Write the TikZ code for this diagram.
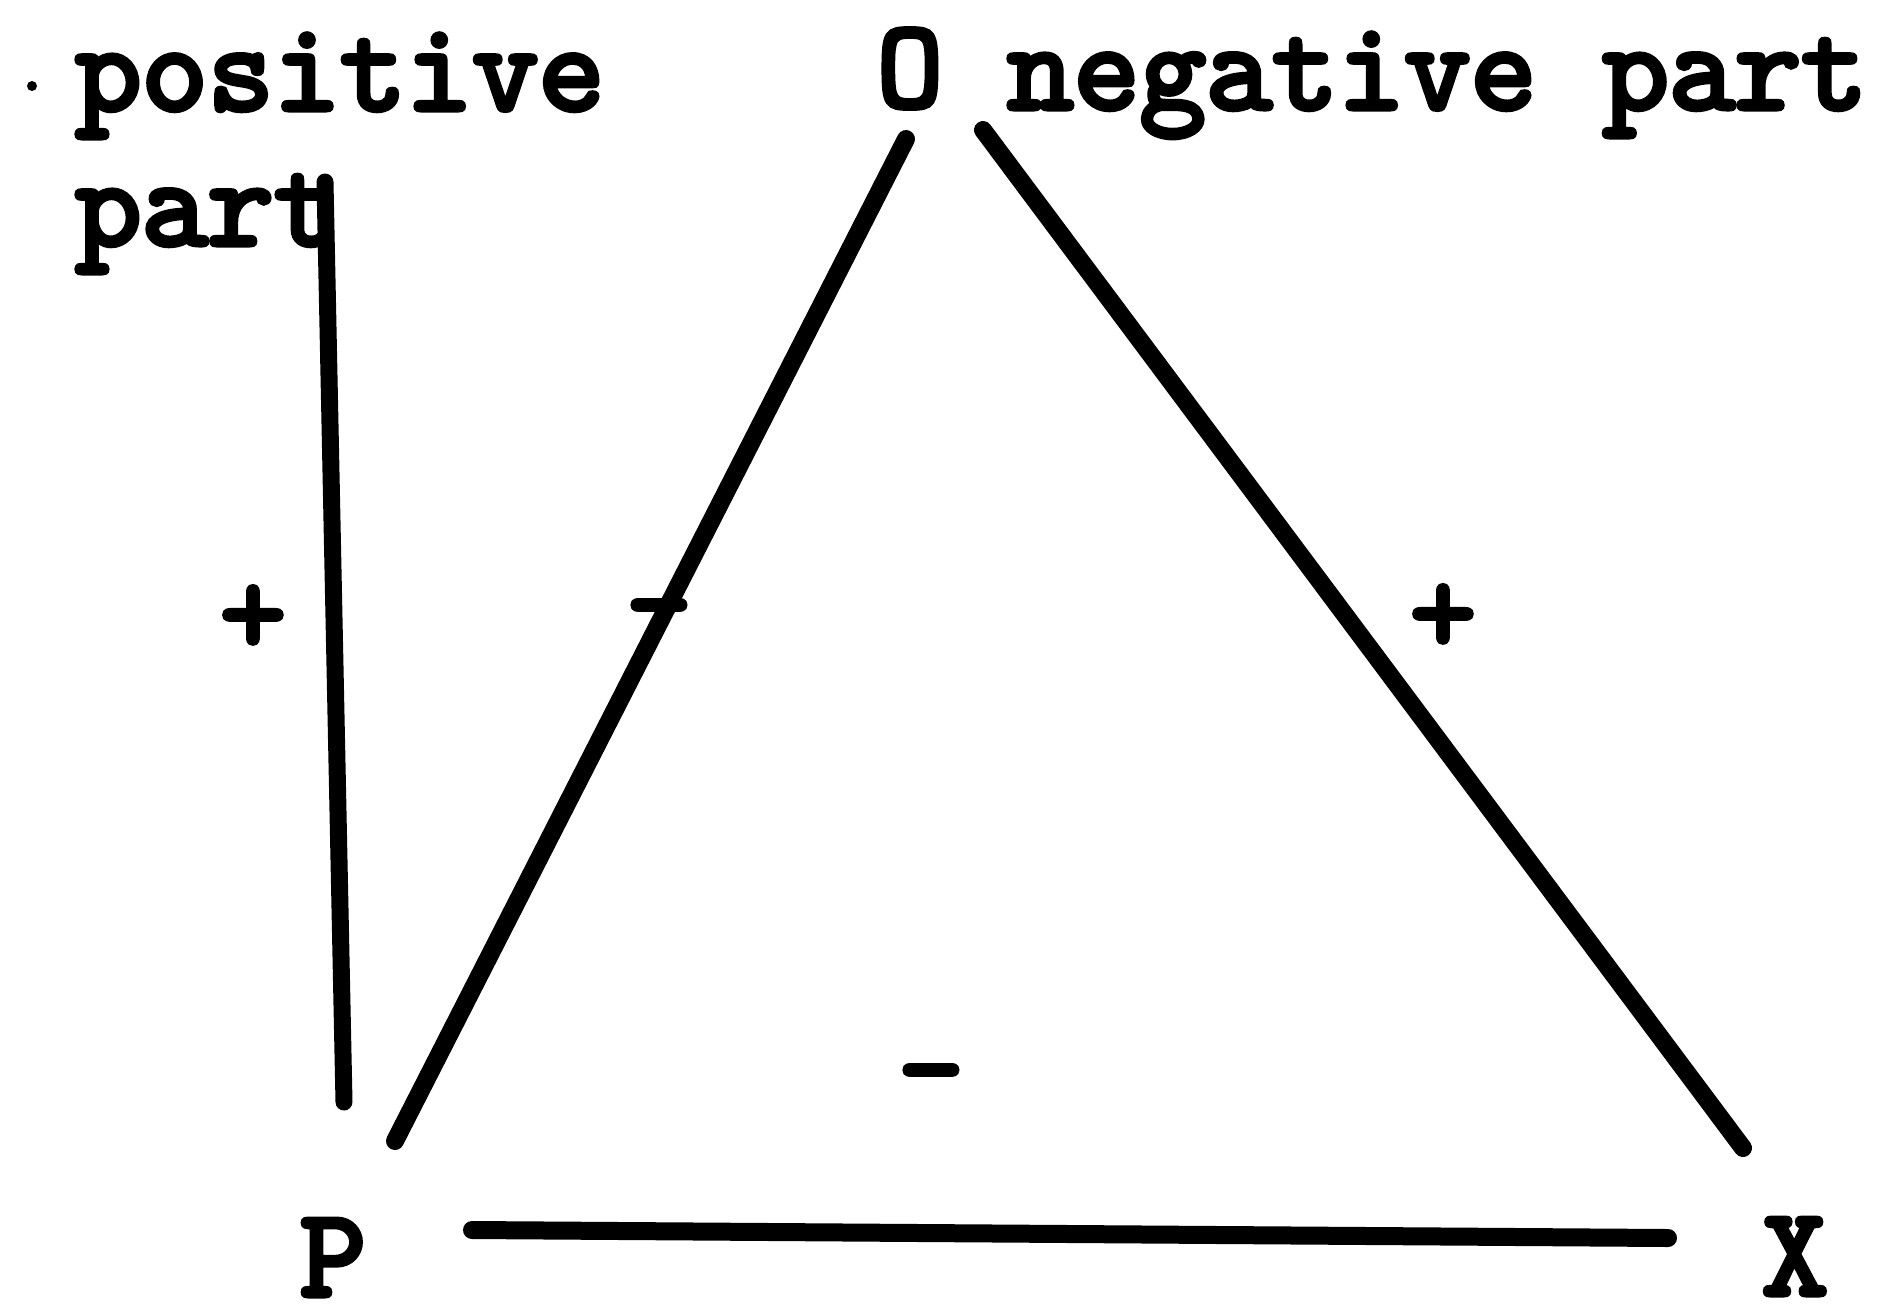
\documentclass[tikz,border=0pt]{standalone}
\usepackage{fontspec}
\newfontfamily\twfont{lmmono10-regular.otf}[FakeBold=4]
\begin{document}
\begin{tikzpicture}[x=0.5pt,y=-0.5pt,
  lbl/.style={inner sep=0pt, font=\fontsize{63}{67.5}\selectfont\twfont},
  side/.style={line width=9pt, line cap=round},
  base/.style={line width=9pt, line cap=round},
]
\useasboundingbox (0,0) rectangle (1886,1314);
% vertex labels
\node[lbl, anchor=base] (O) at (910,107) {O};
\node[lbl, anchor=base] (P) at (333,1296) {P};
\node[lbl, anchor=base] (X) at (1795,1295) {X};
% text labels
\node[lbl, anchor=base west] (pos1) at (75,110) {positive};
\node[lbl, anchor=base west] (pos2) at (75,245) {part};
\node[lbl, anchor=base west] (neg) at (1007,109) {negative part};
% signs
\node[lbl] (s1) at (253,620) {+};
\node[lbl] (s2) at (659,622) {-};
\node[lbl] (s3) at (1443,619) {+};
\node[lbl] (s4) at (931,1087) {-};
% stray mark
\fill (32,86) circle (2.5pt);
% line end points
\coordinate (vt) at (325,182);
\coordinate (vb) at (344,1102);
\coordinate (pot) at (906,139);
\coordinate (pob) at (395,1141);
\coordinate (oxt) at (983,130);
\coordinate (oxb) at (1743,1148);
\coordinate (pxl) at (472,1230);
\coordinate (pxr) at (1668,1238);
% lines
\draw[side, line width=8.5pt] (vt) -- (vb);
\draw[side] (pot) -- (pob);
\draw[side] (oxt) -- (oxb);
\draw[base] (pxl) -- (pxr);
\end{tikzpicture}
\end{document}
